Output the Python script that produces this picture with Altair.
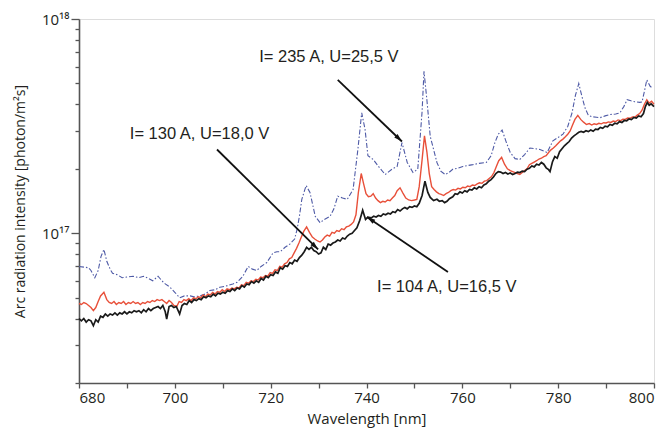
import altair as alt
import pandas as pd

# ---------------- data (intensity in units of 1e16 photon/m2s) ----------------
wl_104 = [680, 680.5, 681, 681.5, 682, 682.5, 683, 683.5, 684, 684.5, 685, 685.5, 686, 686.5, 687, 687.5,
          688, 688.5, 689, 689.5, 690, 690.5, 691, 691.5, 692, 692.5, 693, 693.5, 694, 694.5, 695, 695.5,
          696, 696.5, 697, 697.5, 698, 698.3, 698.8, 699.3, 699.8, 700.3, 701, 701.5, 702, 702.5, 703, 703.5,
          704, 704.5, 705, 705.5, 706, 706.5, 707, 707.5, 708, 708.5, 709, 709.5, 710, 710.5, 711, 711.5,
          712, 712.5, 713, 713.5, 714, 714.5, 715, 715.5, 716, 716.5, 717, 717.5, 718, 718.5, 719, 719.5,
          720, 720.5, 721, 721.5, 722, 722.5, 723, 723.5, 724, 724.5, 725, 725.5, 726, 726.5, 727, 727.5,
          728, 728.5, 729, 729.5, 730, 730.5, 731, 731.5, 732, 732.5, 733, 733.5, 734, 734.5, 735, 735.5,
          736, 736.5, 737, 737.5, 738, 738.6, 739.2, 739.8, 740.3, 741, 741.5, 742, 742.5, 743, 743.5, 744,
          744.5, 745, 745.5, 746, 746.5, 747, 747.5, 748, 748.5, 749, 749.5, 750, 750.5, 751, 751.6, 752.2,
          752.8, 753.3, 754, 754.7, 755.2, 755.8, 756.3, 756.8, 757.3, 758, 758.5, 759, 759.5, 760, 760.5,
          761, 761.5, 762, 762.5, 763, 763.5, 764, 764.5, 765, 765.5, 766, 766.5, 767, 767.5, 768, 768.5,
          769, 769.5, 770, 770.5, 771, 771.5, 772, 772.5, 773, 773.5, 774, 774.5, 775, 775.5, 776, 776.5,
          777, 777.5, 778, 778.3, 778.8, 779.3, 779.8, 780.3, 780.8, 781.3, 781.8, 782.3, 782.8, 783.3,
          783.8, 784.3, 784.8, 785.3, 785.8, 786.3, 786.8, 787.3, 787.8, 788.3, 788.8, 789.3, 789.8, 790.3,
          790.8, 791.3, 791.8, 792.3, 792.8, 793.3, 793.8, 794.3, 794.8, 795.3, 795.8, 796.3, 796.8, 797.3,
          797.8, 798.2, 798.6, 799, 799.4, 800]
int_104 = [4.0, 3.9, 4.0, 3.85, 3.95, 3.9, 3.7, 3.95, 3.85, 4.1, 4.05, 4.2, 4.1, 4.2, 4.15, 4.25,
           4.15, 4.25, 4.2, 4.3, 4.2, 4.3, 4.25, 4.35, 4.3, 4.35, 4.25, 4.4, 4.3, 4.45, 4.35, 4.45,
           4.5, 4.55, 4.45, 4.6, 4.3, 3.98, 4.55, 4.6, 4.5, 4.55, 4.2, 4.6, 4.7, 4.65, 4.85, 4.75,
           4.9, 4.85, 4.95, 4.9, 5.05, 5.0, 5.1, 5.05, 5.2, 5.1, 5.25, 5.2, 5.3, 5.25, 5.4, 5.35,
           5.5, 5.4, 5.55, 5.5, 5.7, 5.6, 5.8, 5.75, 5.95, 5.85, 6.0, 5.9, 6.15, 6.05, 6.3, 6.2,
           6.4, 6.35, 6.6, 6.5, 6.9, 6.8, 7.05, 7.0, 7.3, 7.2, 7.5, 7.4, 7.7, 7.9, 8.2, 8.6,
           8.4, 8.6, 8.3, 8.2, 8.0, 8.1, 8.6, 8.4, 8.9, 8.8, 9.0, 9.1, 9.3, 9.2, 9.5, 9.4,
           9.7, 9.9, 10.0, 10.3, 10.6, 11.5, 12.8, 11.6, 11.9, 11.8, 12.0, 11.9, 12.1, 12.0, 12.3, 12.2,
           12.4, 12.3, 12.6, 12.5, 12.9, 12.7, 13.0, 13.2, 13.0, 13.3, 13.2, 13.4, 13.3, 13.8, 15.0, 17.5,
           15.5, 14.7, 14.2, 14.4, 14.1, 14.2, 13.9, 14.1, 14.5, 14.8, 15.3, 15.2, 15.6, 15.4, 15.8,
           15.6, 16.0, 15.9, 16.3, 16.1, 16.5, 16.3, 16.8, 17.0, 17.5, 17.8, 18.3, 19.0, 19.4, 19.3, 19.0,
           19.2, 18.9, 19.1, 18.8, 19.0, 19.3, 19.2, 19.5, 19.4, 19.9, 20.1, 20.6, 20.4, 21.0, 20.8, 21.4,
           21.0, 20.2, 19.8, 19.4, 21.5, 22.8, 22.4, 24.0, 24.8, 25.6, 26.2, 26.8, 27.8, 28.5,
           29.0, 29.6, 29.9, 29.6, 30.1, 29.8, 30.3, 29.9, 30.6, 30.5, 31.2, 30.9, 31.6, 31.4,
           32.2, 31.9, 32.6, 32.4, 33.2, 32.9, 33.6, 33.5, 34.2, 33.9, 34.7, 34.5, 35.3, 35.0,
           36.2, 39.0, 40.8, 39.6, 40.2, 39.0]

wl_130 = [680, 680.5, 681, 681.5, 682, 682.5, 683, 683.5, 684, 684.5, 685.2, 685.8, 686.3, 686.8, 687.3,
          687.8, 688.3, 688.8, 689.3, 689.8, 690.3, 690.8, 691.3, 691.8, 692.3, 692.8, 693.3, 693.8, 694.3,
          694.8, 695.3, 695.8, 696.3, 696.8, 697.3, 697.8, 698.3, 698.8, 699.3, 699.8, 700.4, 700.9, 701.4,
          701.9, 702.4, 702.9, 703.4, 703.9, 704.4, 704.9, 705.4, 705.9, 706.4, 706.9, 707.4, 707.9, 708.4,
          708.9, 709.4, 709.9, 710.4, 710.9, 711.4, 711.9, 712.4, 712.9, 713.4, 713.9, 714.4, 714.9, 715.4,
          715.9, 716.4, 716.9, 717.4, 717.9, 718.4, 718.9, 719.4, 719.9, 720.4, 720.9, 721.4, 721.9, 722.4,
          722.9, 723.4, 723.9, 724.4, 724.9, 725.4, 725.9, 726.4, 726.9, 727.5, 728.1, 728.7, 729.2, 729.8,
          730.3, 730.8, 731.3, 731.8, 732.3, 732.8, 733.3, 733.8, 734.3, 734.8, 735.3, 735.8, 736.3, 736.8,
          737.3, 737.8, 738.3, 738.9, 739.4, 739.9, 740.4, 740.9, 741.4, 741.9, 742.4, 742.9, 743.4, 743.9,
          744.4, 744.9, 745.4, 745.9, 746.4, 747, 747.6, 748.2, 748.8, 749.4, 750, 750.5, 751, 751.6, 752.1,
          752.6, 753.1, 753.6, 754.1, 754.6, 755.1, 755.6, 756.1, 756.6, 757.1, 757.6, 758.1, 758.6, 759.1,
          759.6, 760.1, 760.6, 761.1, 761.6, 762.1, 762.6, 763.1, 763.6, 764.1, 764.6, 765.1, 765.6, 766.1,
          766.6, 767.1, 767.6, 768.2, 768.8, 769.4, 770, 770.5, 771, 771.5, 772, 772.5, 773, 773.5, 774,
          774.5, 775, 775.5, 776, 776.5, 777, 777.5, 778, 778.5, 779, 779.5, 780, 780.5, 781, 781.5, 782,
          782.5, 783, 783.5, 784.1, 784.7, 785.3, 785.9, 786.5, 787, 787.5, 788, 788.5, 789, 789.5, 790,
          790.5, 791, 791.5, 792, 792.5, 793, 793.5, 794, 794.5, 795, 795.5, 796, 796.5, 797, 797.5, 798,
          798.5, 799, 799.5, 800]
int_130 = [4.7, 4.65, 4.75, 4.7, 4.6, 4.5, 4.35, 4.5, 4.8, 5.1, 5.3, 4.9, 4.75, 4.7, 4.8,
           4.65, 4.75, 4.7, 4.8, 4.65, 4.75, 4.7, 4.8, 4.7, 4.75, 4.65, 4.75, 4.7, 4.8,
           4.75, 4.85, 4.8, 4.9, 4.85, 4.9, 4.8, 4.7, 4.85, 4.75, 4.6, 4.55, 4.8, 4.75,
           4.9, 4.85, 4.95, 4.85, 5.0, 4.95, 5.05, 5.0, 5.15, 5.05, 5.2, 5.15, 5.3, 5.2,
           5.35, 5.3, 5.45, 5.35, 5.5, 5.45, 5.55, 5.5, 5.6, 5.55, 5.75, 5.7, 5.9, 5.85,
           6.0, 5.95, 6.1, 6.05, 6.25, 6.2, 6.35, 6.3, 6.55, 6.5, 6.75, 6.7, 7.0, 6.95,
           7.2, 7.3, 7.6, 7.7, 8.1, 8.5, 9.0, 9.6, 10.2, 10.7, 10.1, 9.6, 9.4, 9.2,
           9.1, 9.3, 9.6, 9.8, 9.7, 10.1, 10.0, 10.3, 10.2, 10.5, 10.4, 10.7, 10.8, 11.0,
           11.3, 12.2, 15.5, 19.0, 17.0, 15.3, 14.8, 14.9, 15.3, 14.6, 14.2, 13.9, 14.1, 14.0,
           14.3, 14.2, 14.6, 15.0, 15.8, 16.3, 15.4, 14.6, 14.3, 14.2, 14.3, 14.4, 16.5, 22.0, 28.5,
           24.0, 19.0, 16.5, 16.0, 15.6, 15.3, 15.2, 15.0, 15.3, 15.5, 15.8, 16.0, 15.9, 16.2,
           16.1, 16.4, 16.3, 16.6, 16.5, 16.8, 16.7, 17.0, 17.2, 17.1, 17.5, 17.6, 18.0, 18.4,
           19.2, 20.5, 21.8, 22.6, 21.0, 20.0, 19.6, 19.4, 19.2, 19.0, 18.8, 19.2, 19.6, 20.0, 20.9,
           21.2, 21.5, 21.8, 22.2, 22.4, 22.8, 23.0, 23.8, 24.5, 25.0, 25.6, 26.3, 27.0, 27.5, 28.2, 29.0,
           30.0, 32.0, 34.0, 35.5, 34.0, 33.0, 32.2, 32.5, 32.0, 32.4, 32.2, 32.6, 32.4, 32.8, 32.7,
           33.1, 32.9, 33.4, 33.2, 33.8, 33.5, 34.1, 34.0, 34.5, 34.4, 34.9, 34.8, 35.6, 36.2, 37.5, 40.0,
           42.0, 40.5, 41.3, 40.0]

wl_235 = [680, 681, 682, 682.5, 683.3, 684, 684.6, 685.2, 685.8, 686.5, 687, 688, 689, 690, 691.3,
          692.5, 693.5, 694.2, 695.4, 696.5, 697.3, 698, 699, 700, 701, 702, 703.2, 704, 705.3, 706.3,
          707.3, 708.4, 709.4, 710.5, 712.1, 713, 714.2, 715.3, 716.2, 717.1, 718, 719.2, 720.5, 721.3,
          722, 723, 724, 725, 725.5, 726, 726.5, 727.4, 728.2, 728.8, 729.3, 730.3, 731.2, 732.4, 733.2,
          734, 735, 736, 737.2, 738.2, 739, 739.7, 740.3, 741.4, 742.5, 743.9, 745.3, 746.4, 747.4, 748.5,
          749.7, 750.7, 751.6, 752, 752.6, 753.3, 754.7, 755.5, 756.4, 757.2, 758, 759, 760.1, 761.1,
          762.2, 763.5, 765, 766, 766.8, 767.5, 768.3, 769.2, 770, 771, 772, 773, 774.1, 775.2, 776.2,
          777.7, 778.9, 780, 781, 782, 782.9, 783.6, 784.3, 784.9, 785.6, 786.3, 787, 788, 788.7, 789.8,
          790.8, 792, 792.9, 793.7, 794.4, 795.2, 796, 797, 797.5, 798, 798.5, 799.2, 799.8]
int_235 = [7.0, 6.95, 6.9, 6.7, 6.2, 6.7, 7.8, 8.4, 7.4, 6.8, 6.5, 6.4, 6.2, 6.25, 6.3,
           6.2, 6.3, 6.2, 6.0, 6.3, 6.0, 5.8, 5.6, 5.3, 5.0, 5.1, 5.1, 5.05, 5.1, 5.2,
           5.4, 5.45, 5.6, 5.65, 5.8, 5.9, 6.3, 7.0, 6.8, 6.7, 7.0, 7.3, 8.1, 8.2,
           8.2, 8.6, 8.9, 9.4, 10.4, 12.0, 14.4, 16.7, 15.5, 13.5, 12.0, 11.2, 11.6, 12.0, 13.0,
           14.9, 14.6, 14.4, 16.0, 24.6, 36.5, 30.5, 23.0, 22.1, 20.5, 18.8, 19.9, 20.5, 26.5, 21.4,
           19.2, 19.9, 37.0, 57.0, 42.0, 28.3, 21.4, 19.5, 18.8, 19.2, 19.9, 20.1, 20.5, 20.7,
           20.9, 21.2, 21.4, 23.0, 26.5, 29.0, 30.3, 26.5, 23.8, 22.3, 22.1, 23.3, 25.0, 24.8, 24.6,
           23.8, 27.0, 28.0, 29.0, 31.5, 36.5, 44.0, 50.0, 44.0, 38.5, 35.5, 35.0, 34.8, 34.6, 35.3,
           35.8, 36.0, 36.5, 39.0, 42.0, 41.5, 41.1, 40.8, 41.0, 46.0, 52.0, 48.5, 47.5]

# annotations: label, text anchor (wavelength, intensity), arrow start, arrow tip
ann_labels = ["I= 235 A, U=25,5 V", "I= 130 A, U=18,0 V", "I= 104 A, U=16,5 V"]
ann_text_wl = [717.6, 690.6, 742.2]
ann_text_int = [63.1, 27.4, 5.3]
arrow_start_wl = [734.0, 708.8, 757.0]
arrow_start_int = [52.0, 24.6, 6.6]
arrow_tip_wl = [747.4, 729.9, 740.1]
arrow_tip_int = [26.8, 8.4, 11.9]
arrow_angle = [134, 135, 304]

E = 1e16


def frame(wl, iv):
    return pd.DataFrame({"wl": wl, "I": [v * E for v in iv]})


xs = alt.Scale(domain=[680, 800], nice=False, zero=False)
ys = alt.Scale(type="log", domain=[2e16, 1e18], nice=False)

yvals = [k * 1e16 for k in range(2, 10)] + [k * 1e17 for k in range(1, 10)] + [1e18]

AXIS_FONT = "Open Sans"
x_axis = alt.Axis(
    values=list(range(680, 801, 10)),
    labelExpr="datum.value % 20 == 0 ? datum.label : ''",
    title="Wavelength [nm]",
    grid=False, domainColor="#555555", domainWidth=1.6, tickColor="#555555", tickWidth=1.3,
    tickSize=5, labelFont=AXIS_FONT, labelFontSize=15, labelColor="#231f20", labelPadding=2,
    titleFont=AXIS_FONT, titleFontSize=15, titleFontWeight="normal", titleColor="#231f20", titlePadding=6,
)
y_axis = alt.Axis(
    values=yvals,
    labelExpr="datum.value == 1e17 ? '10¹⁷' : (datum.value == 1e18 ? '10¹⁸' : '')",
    title="Arc radiation intensity [photon/m²s]",
    grid=False, domainColor="#555555", domainWidth=1.6, tickColor="#555555", tickWidth=1.3,
    tickSize={"condition": {"test": "datum.value == 1e17 || datum.value == 1e18", "value": 8}, "value": 4},
    labelFont=AXIS_FONT, labelFontSize=15, labelColor="#231f20", labelPadding=2,
    titleFont=AXIS_FONT, titleFontSize=14, titleFontWeight="normal", titleColor="#231f20",
    titleX=-59, titleY=182, titleAngle=-90, titleAlign="center", titleBaseline="middle",
)

blue = alt.Chart(frame(wl_235, int_235)).mark_line(
    color="#4e5aa6", strokeWidth=1.1, strokeDash=[5, 2, 1.5, 2]
).encode(x=alt.X("wl:Q", scale=xs, axis=x_axis), y=alt.Y("I:Q", scale=ys, axis=y_axis))

red = alt.Chart(frame(wl_130, int_130)).mark_line(color="#e8503a", strokeWidth=1.4).encode(
    x=alt.X("wl:Q", scale=xs), y=alt.Y("I:Q", scale=ys))

black = alt.Chart(frame(wl_104, int_104)).mark_line(color="#1a1a1a", strokeWidth=1.7).encode(
    x=alt.X("wl:Q", scale=xs), y=alt.Y("I:Q", scale=ys))

ann = pd.DataFrame({
    "label": ann_labels,
    "tx": ann_text_wl, "ty": [v * E for v in ann_text_int],
    "sx": arrow_start_wl, "sy": [v * E for v in arrow_start_int],
    "ex": arrow_tip_wl, "ey": [v * E for v in arrow_tip_int],
    "ang": arrow_angle,
})

texts = alt.Chart(ann).mark_text(
    align="left", baseline="alphabetic", font="Liberation Sans", fontSize=16.5, color="#231f20"
).encode(x=alt.X("tx:Q", scale=xs), y=alt.Y("ty:Q", scale=ys), text="label:N")

arrows = alt.Chart(ann).mark_rule(color="#111111", strokeWidth=1.8).encode(
    x=alt.X("sx:Q", scale=xs), y=alt.Y("sy:Q", scale=ys), x2="ex:Q", y2="ey:Q")

heads = alt.Chart(ann).mark_point(
    shape="M0,0L0.45,1.6L-0.45,1.6Z", filled=True, color="#111111", size=110, opacity=1
).encode(x=alt.X("ex:Q", scale=xs), y=alt.Y("ey:Q", scale=ys), angle=alt.Angle("ang:Q", scale=None))

chart = alt.layer(blue, red, black, arrows, heads, texts).properties(
    width=575, height=364,
    autosize=alt.AutoSizeParams(type="none"),
    padding={"left": 79, "top": 19, "right": 11, "bottom": 47},
).configure_view(stroke=None).configure(background="white")

chart.save("out.html", embed_options={"renderer": "svg", "actions": False})
